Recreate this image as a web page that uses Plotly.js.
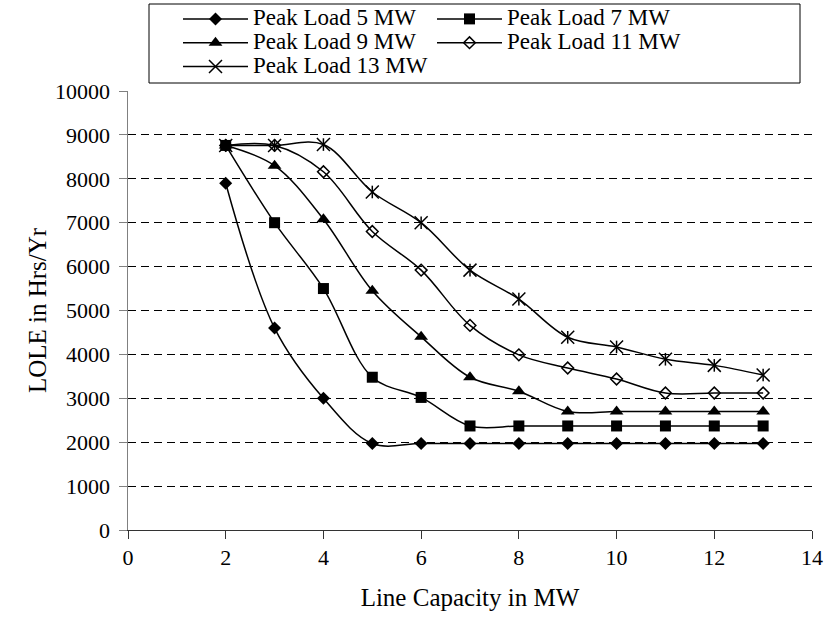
<!DOCTYPE html>
<html>
<head>
<meta charset="utf-8">
<script src="https://cdn.plot.ly/plotly-3.0.1.min.js"></script>
<style>html,body{margin:0;padding:0;background:#fff;}#chart{width:828px;height:617px;}</style>
</head>
<body>
<div id="chart"></div>
<script>
// Line capacity (MW)
const lineCapacity = [2, 3, 4, 5, 6, 7, 8, 9, 10, 11, 12, 13];
// LOLE (Hrs/Yr) per peak load
const peak5  = [7900, 4600, 3000, 1970, 1970, 1970, 1970, 1970, 1970, 1970, 1970, 1970];
const peak7  = [8760, 7000, 5500, 3480, 3020, 2370, 2370, 2370, 2370, 2370, 2370, 2370];
const peak9  = [8760, 8300, 7080, 5450, 4400, 3480, 3160, 2700, 2700, 2700, 2700, 2700];
const peak11 = [8760, 8760, 8160, 6800, 5920, 4660, 3990, 3690, 3440, 3120, 3120, 3120];
const peak13 = [8760, 8760, 8780, 7700, 7000, 5920, 5260, 4390, 4170, 3890, 3750, 3530];
const seriesNames = ['Peak Load 5 MW', 'Peak Load 7 MW', 'Peak Load 9 MW', 'Peak Load 11 MW', 'Peak Load 13 MW'];
const xTicks = [0, 2, 4, 6, 8, 10, 12, 14];
const yTicks = [0, 1000, 2000, 3000, 4000, 5000, 6000, 7000, 8000, 9000, 10000];

const FONT = '"Liberation Serif", serif';
const lbl = s => '<span style="font-size:23px">' + s + '</span>';
const lineStyle = {color: '#000', width: 1.5, shape: 'spline', smoothing: 1};

const seriesY = [peak5, peak7, peak9, peak11, peak13];
const markers = [
  {symbol: 'diamond', size: 10, color: '#000'},
  {symbol: 'square', size: 11, color: '#000'},
  {symbol: 'triangle-up', size: 12, color: '#000'},
  {symbol: 'diamond-open', size: 9, color: '#000', line: {color: '#000', width: 1.5}},
  {symbol: 'x-thin-open', size: 13, color: '#000', line: {color: '#000', width: 1.5}}
];

const traces = seriesY.map((ys, i) => ({
  type: 'scatter', mode: 'lines+markers',
  x: lineCapacity, y: ys, name: lbl(seriesNames[i]),
  line: lineStyle, marker: markers[i]
}));
// vertical stroke completing the asterisk marker of the 13 MW series
traces.push({
  type: 'scatter', mode: 'markers', x: lineCapacity, y: peak13, showlegend: false,
  hoverinfo: 'skip',
  marker: {symbol: 'line-ns-open', size: 9, color: '#000', line: {color: '#000', width: 1.5}}
});

const L = 128, R = 16, T = 91, B = 87;
const W = 828, H = 617;
const pw = W - L - R, ph = H - T - B;
const px = x => (x - L) / pw;
const py = y => (H - B - y) / ph;

const layout = {
  width: W, height: H,
  margin: {l: L, r: R, t: T, b: B, pad: 0, autoexpand: false},
  paper_bgcolor: '#fff', plot_bgcolor: '#fff',
  font: {family: FONT, size: 22, color: '#000'},
  showlegend: true,
  legend: {
    orientation: 'h', x: px(178), xanchor: 'left', y: py(2), yanchor: 'top',
    bgcolor: 'rgba(0,0,0,0)', borderwidth: 0,
    font: {family: FONT, size: 16, color: '#000'},
    itemwidth: 65, entrywidth: 174, entrywidthmode: 'pixels',
    traceorder: 'normal', tracegroupgap: 0
  },
  xaxis: {
    range: [0, 14], tickvals: xTicks, ticktext: xTicks.map(String),
    showgrid: false, zeroline: false,
    showline: true, linecolor: '#333', linewidth: 1,
    ticks: 'outside', ticklen: 8, tickcolor: '#333', tickwidth: 1,
    ticklabelstandoff: 0,
    tickfont: {family: FONT, size: 22, color: '#000'},
    title: {text: 'Line Capacity in MW', font: {family: FONT, size: 25, color: '#000'}, standoff: 19},
    automargin: false, fixedrange: true
  },
  yaxis: {
    range: [0, 10000], tickvals: yTicks, ticktext: yTicks.map(String),
    showgrid: true, gridcolor: '#000', gridwidth: 1, griddash: '8px,5px',
    zeroline: false,
    showline: true, linecolor: '#808080', linewidth: 1.5,
    ticks: 'outside', ticklen: 8, tickcolor: '#808080', tickwidth: 1,
    ticklabelstandoff: 4,
    tickfont: {family: FONT, size: 22, color: '#000'},
    title: {text: 'LOLE in Hrs/Yr', font: {family: FONT, size: 25, color: '#000'}, standoff: 1},
    automargin: false, fixedrange: true
  },
  yaxis2: {
    overlaying: 'y', matches: 'y', side: 'left', anchor: 'x',
    range: [0, 10000], tickvals: yTicks,
    showticklabels: false, showgrid: false, zeroline: false, showline: false,
    ticks: 'inside', ticklen: 7, tickcolor: '#808080', tickwidth: 1, fixedrange: true
  },
  shapes: [{
    type: 'rect', xref: 'paper', yref: 'paper',
    x0: px(149), x1: px(800), y0: py(83), y1: py(4),
    line: {color: '#000', width: 1}, fillcolor: 'rgba(0,0,0,0)', layer: 'above'
  }]
};

Plotly.newPlot('chart', traces, layout, {staticPlot: true, displayModeBar: false});
</script>
</body>
</html>
